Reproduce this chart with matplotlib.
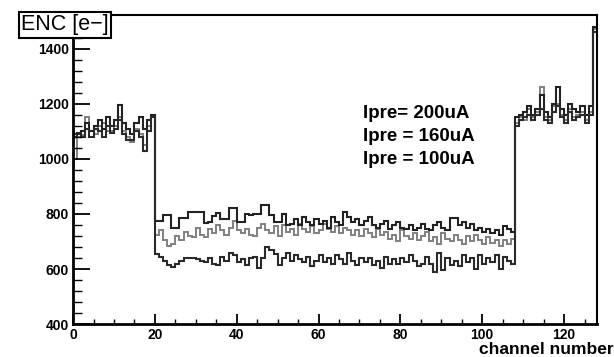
import numpy as np
import matplotlib
matplotlib.use('Agg')
import matplotlib.pyplot as plt
from matplotlib.ticker import MultipleLocator

plt.rcParams['font.family'] = ['Liberation Sans', 'DejaVu Sans']

# ENC per channel, three preamp currents
enc_200 = [1090, 1095, 1100, 1130, 1100, 1120, 1140, 1110, 1150, 1120,
           1140, 1195, 1130, 1110, 1090, 1130, 1150, 1110, 1140, 1160,
           775, 775, 796, 796, 750, 750, 785, 785, 807, 807,
           807, 807, 767, 770, 791, 803, 780, 780, 822, 822,
           770, 770, 800, 795, 800, 800, 833, 833, 795, 770,
           770, 800, 760, 765, 780, 760, 790, 770, 760, 780,
           765, 775, 750, 790, 770, 760, 807, 790, 770, 780,
           760, 775, 790, 760, 750, 765, 775, 745, 760, 770,
           750, 745, 760, 740, 750, 765, 745, 740, 760, 770,
           750, 740, 785, 785, 760, 770, 750, 765, 740, 750,
           735, 745, 730, 740, 725, 755, 745, 735,
           1150, 1160, 1170, 1190, 1160, 1180, 1230, 1170, 1150, 1200,
           1262, 1180, 1160, 1200, 1180, 1170, 1190, 1160, 1190, 1480]
enc_160 = [1000, 1080, 1085, 1150, 1100, 1090, 1120, 1130, 1100, 1100,
           1120, 1150, 1100, 1080, 1060, 1110, 1090, 1050, 1120, 1155,
           725, 740, 705, 685, 690, 720, 705, 735, 720, 715,
           750, 725, 715, 745, 730, 760, 740, 725, 750, 775,
           740, 730, 745, 725, 720, 750, 765, 740, 730, 755,
           720, 760, 735, 745, 725, 765, 745, 735, 755, 730,
           740, 765, 745, 735, 755, 730, 750, 740, 725, 740,
           720, 745, 730, 715, 745, 725, 735, 710, 725, 700,
           740, 720, 710, 730, 705, 720, 735, 700, 715, 690,
           730, 710, 700, 725, 705, 690, 720, 700, 725, 705,
           690, 715, 695, 705, 685, 705, 690, 710,
           1130, 1150, 1140, 1180, 1150, 1170, 1262, 1150, 1140, 1190,
           1200, 1160, 1140, 1180, 1150, 1160, 1170, 1140, 1170, 1470]
enc_100 = [1080, 1090, 1080, 1110, 1080, 1110, 1100, 1080, 1120, 1095,
           1110, 1140, 1090, 1070, 1070, 1100, 1080, 1030, 1100, 1150,
           655, 645, 630, 615, 608, 620, 630, 640, 640, 640,
           635, 630, 625, 640, 620, 615, 645, 630, 660, 650,
           625, 635, 615, 640, 645, 605, 640, 680, 670, 655,
           615, 640, 660, 630, 650, 635, 625, 645, 610, 630,
           650, 625, 640, 620, 650, 635, 620, 660, 630, 615,
           640, 625, 640, 615, 630, 605, 645, 620, 635, 620,
           640, 625, 650, 630, 610, 620, 645, 620, 590, 660,
           595, 640, 615, 630, 610, 650, 625, 640, 600, 650,
           620, 640, 625, 650, 600, 645, 630, 620,
           1120, 1140, 1150, 1160, 1140, 1160, 1180, 1140, 1130, 1170,
           1190, 1150, 1130, 1170, 1140, 1150, 1160, 1130, 1160, 1460]
labels = ['Ipre= 200uA', 'Ipre = 160uA', 'Ipre = 100uA']

edges = np.arange(len(enc_200) + 1)

fig = plt.figure(figsize=(6.14, 3.57), dpi=100)
ax = fig.add_axes([0.119, 0.092, 0.853, 0.866])

ax.stairs(enc_160, edges, color='#808080', lw=1.4, baseline=None)
ax.stairs(enc_200, edges, color='#222222', lw=1.5, baseline=None)
ax.stairs(enc_100, edges, color='#2a2a2a', lw=1.5, baseline=None)

ax.set_xlim(0, 128)
ax.set_ylim(400, 1522)
ax.xaxis.set_major_locator(MultipleLocator(20))
ax.xaxis.set_minor_locator(MultipleLocator(5))
ax.yaxis.set_major_locator(MultipleLocator(200))
ax.yaxis.set_minor_locator(MultipleLocator(40))
ax.tick_params(axis='y', which='major', direction='in', length=12, width=1.3,
               pad=3, labelsize=10)
ax.tick_params(axis='y', which='minor', direction='in', length=6.5, width=1)
ax.tick_params(axis='x', which='major', direction='in', length=7, width=1.3,
               pad=3, labelsize=10)
ax.tick_params(axis='x', which='minor', direction='in', length=3.5, width=1)
for lab in ax.get_xticklabels() + ax.get_yticklabels():
    lab.set_fontweight('bold')

for side in ['left', 'bottom']:
    ax.spines[side].set_linewidth(2)
for side in ['top', 'right']:
    ax.spines[side].set_linewidth(1.5)

fig.text(0.106, 0.930, 'ENC [e\u2212]', fontsize=15.5, ha='center', va='center',
         bbox=dict(boxstyle='square,pad=0.1', fc='white', ec='black', lw=1.5))

for i, txt in enumerate(labels):
    fig.text(0.591, 0.683 - 0.065 * i, txt, fontsize=13.5, fontweight='bold',
             ha='left', va='center')

fig.text(0.999, 0.001, 'channel number', fontsize=12.5, fontweight='bold',
         ha='right', va='bottom')

fig.savefig('out.png', dpi=100)
